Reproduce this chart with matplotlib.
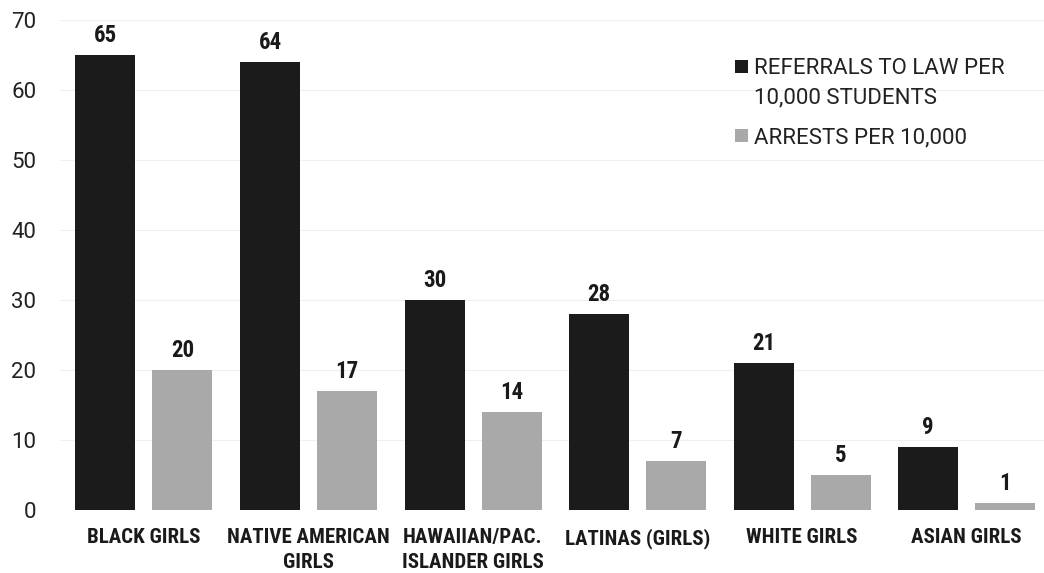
import matplotlib
matplotlib.use("Agg")
import matplotlib.pyplot as plt
from matplotlib.patches import Rectangle
import numpy as np

categorias = ["BLACK GIRLS", "NATIVE AMERICAN\nGIRLS", "HAWAIIAN/PAC.\nISLANDER GIRLS",
              "LATINAS (GIRLS)", "WHITE GIRLS", "ASIAN GIRLS"]
referrals = [65, 64, 30, 28, 21, 9]
arrests = [20, 17, 14, 7, 5, 1]
yticks = [0, 10, 20, 30, 40, 50, 60, 70]
series = ["REFERRALS TO LAW PER\n10,000 STUDENTS", "ARRESTS PER 10,000"]

NEGRO = "#1b1b1b"
GRIS = "#a9a9a9"
COND = ["Roboto Condensed", "DejaVu Sans"]
TEXTO = ["Roboto", "DejaVu Sans"]
W, H = 1044, 573

fig = plt.figure(figsize=(W / 100, H / 100), dpi=100)
ax = fig.add_axes([0.0575, 0.110, 0.9425, 0.855])

x = np.arange(len(categorias))
w = 0.365
off = 0.234
b1 = ax.bar(x - off, referrals, w, color=NEGRO, zorder=2)
b2 = ax.bar(x + off, arrests, w, color=GRIS, zorder=2)

# etiquetas de valor sobre cada barra
for barras, vals in ((b1, referrals), (b2, arrests)):
    for b, v in zip(barras, vals):
        ax.annotate(f"{v}", (b.get_x() + b.get_width() / 2, v), xytext=(0, 6),
                    textcoords="offset points", ha="center", va="bottom",
                    fontsize=16.5, fontweight="bold", family=COND, color="#1a1a1a")

ax.set_xlim(-0.51, 5.47)
ax.set_ylim(0, 70)
ax.set_yticks(yticks)
ax.set_yticklabels([str(t) for t in yticks], family=TEXTO, fontsize=16, color="#222222")
ax.set_xticks(x)
ax.set_xticklabels(categorias, family=COND, fontsize=15, fontweight="bold",
                   color="#1a1a1a", linespacing=1.4)
ax.tick_params(axis="both", length=0)
ax.tick_params(axis="x", pad=13)
ax.tick_params(axis="y", pad=17)
ax.grid(axis="y", color="#efefef", linewidth=0.8, zorder=0)
for s in ax.spines.values():
    s.set_visible(False)

# leyenda a mano: el cuadro va alineado con la primera linea del texto
def px(xp, yp):
    return xp / W, 1 - yp / H

y_lin = 74
for nombre, color in zip(series, (NEGRO, GRIS)):
    lineas = nombre.split("\n")
    sx, sy = px(735, y_lin - 1)
    fig.add_artist(Rectangle((sx, sy), 13 / W, 13 / H, transform=fig.transFigure,
                             color=color, linewidth=0))
    for k, linea in enumerate(lineas):
        tx, ty = px(754, y_lin + 29 * k)
        fig.text(tx, ty, linea, family=TEXTO, fontsize=16, color="#222222",
                 ha="left", va="baseline")
    y_lin += 29 * (len(lineas) - 1) + 40

fig.savefig("out.png", dpi=100, facecolor="white")
